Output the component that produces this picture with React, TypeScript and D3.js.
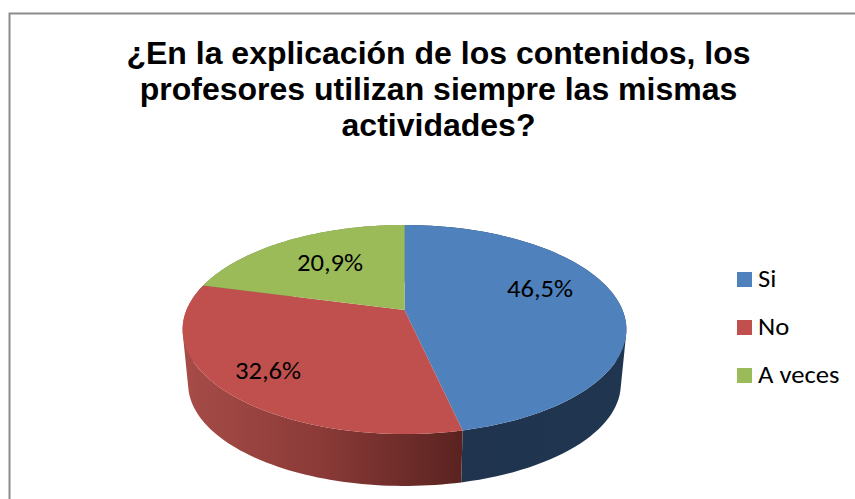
import * as d3 from "d3";

const categories = ["Si", "No", "A veces"];
const values = [46.5, 32.6, 20.9];
const labels = ["46,5%", "32,6%", "20,9%"];
const colors = ["#4f81bd", "#c0504d", "#9bbb59"];
const titleLines = [
  "¿En la explicación de los contenidos, los",
  "profesores utilizan siempre las mismas",
  "actividades?",
];
const titleBaselines = [64, 99.5, 136];
const labelPos = [
  [540, 297],
  [268, 379],
  [330, 271],
];

const W = 855;
const H = 499;
const bodyFont = "Carlito, Lato, sans-serif";
// the reference text is stretched sideways
const stretch = 1.11;

// pie with a bit of perspective, far side is squeezed
const cx = 404.5;
const cy = 310;
const R = 218;
const S = 100.9;
const p = 0.1866;
const bottomCy = 365;
const bottomScale = 0.975;

const project = (a: number, scale = 1, yc = cy): [number, number] => {
  const u = Math.sin(a);
  const v = Math.cos(a);
  const d = 1 + p * v;
  return [cx + (scale * R * u) / d, yc - (scale * S * v) / d];
};

const arcAngles = (start: number, end: number) =>
  d3.range(0, 1.0001, 1 / 80).map((t) => d3.interpolateNumber(start, end)(t));

const slices = d3.pie<number>().sort(null)(values);
const line = d3.line();

// all quads wound the same way, so one nonzero path has no holes or seams
const rimPath = (start: number, end: number) =>
  d3
    .pairs(arcAngles(start, end))
    .map(([a, b]) => {
      const quad: [number, number][] = [
        project(a),
        project(b),
        project(b, bottomScale, bottomCy),
        project(a, bottomScale, bottomCy),
      ];
      if (d3.polygonArea(quad) < 0) quad.reverse();
      return line(quad) + "Z";
    })
    .join("");

export default function App() {
  return (
    <svg
      width={W}
      height={H}
      style={{ position: "absolute", left: 0, top: 0, background: "#fff" }}
    >
      <defs>
        <linearGradient id="sideRed" gradientUnits="userSpaceOnUse" x1={183} x2={462} y1={0} y2={0}>
          <stop offset="0" stopColor="#a74c48" />
          <stop offset="0.5" stopColor="#8a3a37" />
          <stop offset="1" stopColor="#5a2320" />
        </linearGradient>
        <linearGradient id="sideBlue" gradientUnits="userSpaceOnUse" x1={462} x2={627} y1={0} y2={0}>
          <stop offset="0" stopColor="#20344f" />
          <stop offset="1" stopColor="#1f3550" />
        </linearGradient>
      </defs>

      {/* frame */}
      <path d={`M9.5,${H}V13.5H${W}`} fill="none" stroke="#8c8c8c" strokeWidth={2} />

      <g fontFamily="'Liberation Sans', Arial, sans-serif" fontWeight="bold" fontSize={32} textAnchor="middle" fill="#000">
        {titleLines.map((t, i) => (
          <text key={i} x={438.5} y={titleBaselines[i]}>
            {t}
          </text>
        ))}
      </g>

      {/* rim */}
      {slices.map((s, i) => (
        <path
          key={i}
          d={rimPath(s.startAngle, s.endAngle)}
          fill={i === 0 ? "url(#sideBlue)" : i === 1 ? "url(#sideRed)" : "#6d843e"}
        />
      ))}

      {/* top face */}
      {slices.map((s, i) => {
        const pts = arcAngles(s.startAngle, s.endAngle).map((a) => project(a));
        return <path key={i} d={line([[cx, cy], ...pts]) + "Z"} fill={colors[i]} />;
      })}

      <g fontFamily={bodyFont} fontSize={24} textAnchor="middle" fill="#000">
        {labels.map((l, i) => (
          <text key={i} transform={`translate(${labelPos[i][0]},${labelPos[i][1]}) scale(${stretch},1)`}>
            {l}
          </text>
        ))}
      </g>

      {/* legend */}
      {categories.map((c, i) => (
        <g key={c}>
          <rect x={737} y={272 + i * 48} width={15} height={15} fill={colors[i]} />
          <text
            transform={`translate(758,${287 + i * 48}) scale(${stretch},1)`}
            fontFamily={bodyFont}
            fontSize={24}
            fill="#000"
          >
            {c}
          </text>
        </g>
      ))}
    </svg>
  );
}
